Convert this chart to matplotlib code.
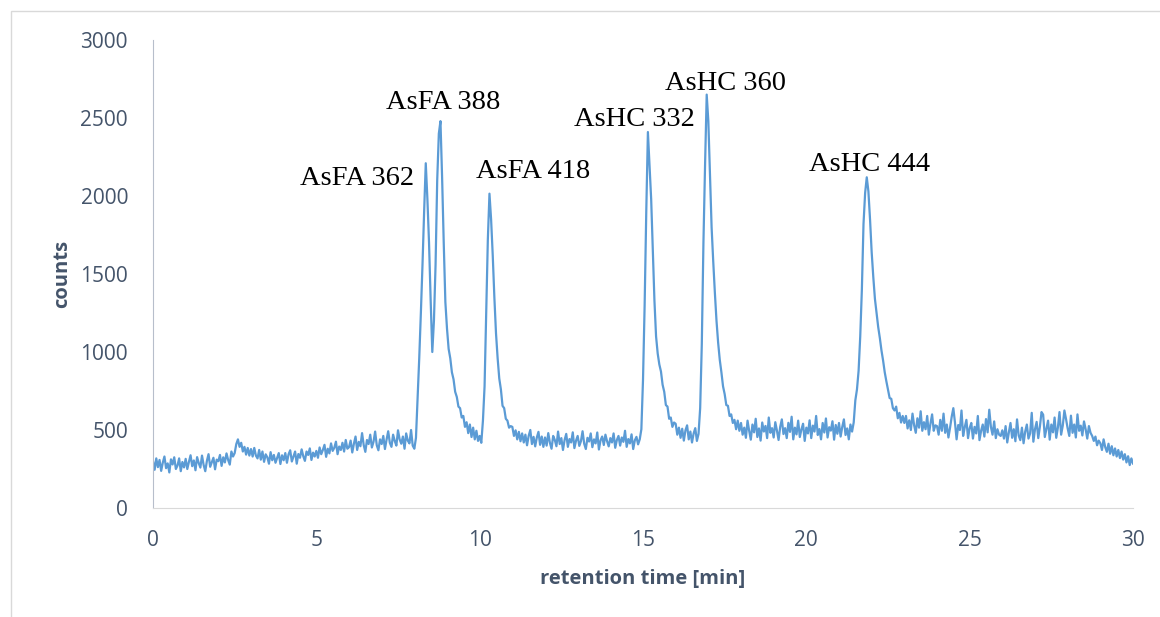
import numpy as np
import matplotlib
matplotlib.use("Agg")
import matplotlib.pyplot as plt
from matplotlib.patches import Rectangle

# sampling of the chromatogram (one reading every 0.05 min, 0 - 30 min)
sample_step = 0.05

# counts, one row per minute
counts_00_08 = [
    300, 245, 318, 262, 308, 238, 291, 330, 255, 286, 228, 312, 279, 325, 250, 272, 318, 236, 295, 260,
    315, 250, 296, 338, 268, 305, 242, 326, 288, 259, 336, 276, 236, 302, 345, 264, 293, 322, 248, 310,
    300, 340, 270, 325, 292, 350, 308, 278, 362, 330, 352, 410, 440, 392, 418, 362, 392, 342, 385, 336,
    378, 330, 385, 336, 318, 372, 310, 362, 296, 344, 325, 284, 358, 306, 340, 290, 322, 352, 282, 338,
    306, 352, 290, 344, 370, 298, 330, 362, 284, 346, 322, 376, 332, 302, 362, 340, 382, 308, 355, 330,
    366, 322, 388, 345, 372, 405, 328, 380, 350, 414, 366, 386, 425, 345, 394, 372, 418, 362, 436, 380,
    390, 432, 356, 412, 458, 372, 424, 396, 480, 404, 360, 436, 410, 470, 388, 424, 490, 402, 370, 440,
    410, 462, 378, 438, 492, 418, 392, 470, 430, 400, 498, 440, 412, 458, 380, 478, 432, 414, 500, 400,
]
counts_08_11 = [
    380, 450, 700, 960, 1250, 1560, 1900, 2210, 1980, 1700, 1330, 1000, 1200, 1560, 2100, 2400, 2480, 2120, 1700, 1320,
    1150, 1020, 960, 870, 825, 745, 712, 650, 640, 580, 590, 520, 550, 480, 535, 455, 515, 440, 495, 430,
    462, 418, 560, 780, 1250, 1720, 2015, 1850, 1620, 1350, 1120, 960, 830, 760, 655, 640, 572, 560, 515, 525,
]
counts_11_15 = [
    520, 462, 498, 440, 488, 428, 478, 420, 470, 402, 462, 500, 410, 456, 395, 452, 488, 405, 458, 392,
    452, 400, 480, 418, 380, 462, 436, 396, 490, 410, 448, 372, 436, 475, 392, 442, 420, 485, 384, 432,
    462, 398, 428, 492, 412, 378, 450, 426, 478, 390, 440, 414, 484, 375, 434, 458, 404, 470, 428, 395,
    448, 420, 478, 386, 436, 462, 400, 452, 424, 495, 392, 442, 414, 472, 378, 434, 456, 408, 440, 505,
]
counts_15_18 = [
    820, 1300, 1900, 2410, 2200, 1980, 1650, 1330, 1100, 990, 920, 875, 790, 745, 660, 650, 572, 580, 520, 548,
    540, 470, 515, 450, 508, 432, 498, 530, 440, 490, 420, 478, 512, 430, 475, 640, 1050, 1700, 2200, 2650,
    2480, 2150, 1800, 1580, 1380, 1200, 1060, 950, 870, 780, 730, 660, 655, 590, 600, 545, 565, 505, 560, 495,
]
counts_18_21 = [
    545, 470, 515, 450, 560, 495, 438, 535, 485, 572, 455, 510, 432, 548, 490, 526, 448, 580, 482, 512,
    452, 550, 496, 436, 520, 568, 474, 512, 448, 546, 488, 585, 440, 515, 472, 560, 455, 504, 540, 430,
    515, 478, 562, 448, 528, 490, 590, 468, 506, 440, 545, 484, 574, 452, 518, 496, 556, 438, 532, 476,
]
counts_21_24 = [
    545, 458, 520, 568, 468, 510, 440, 535, 490, 548, 690, 760, 880, 1100, 1400, 1820, 2020, 2120, 2030, 1850,
    1640, 1480, 1340, 1250, 1160, 1090, 1010, 945, 870, 812, 760, 705, 700, 640, 625, 650, 575, 610, 548, 590,
    545, 590, 510, 562, 500, 605, 530, 482, 575, 515, 620, 495, 550, 505, 590, 470, 540, 600, 495, 530,
]
counts_24_30 = [
    525, 470, 565, 495, 605, 482, 535, 452, 515, 585, 640, 548, 440, 532, 500, 625, 462, 518, 565, 448,
    512, 545, 445, 520, 478, 590, 435, 495, 535, 458, 570, 485, 630, 520, 470, 555, 448, 505, 470, 462,
    498, 445, 525, 420, 485, 545, 450, 505, 428, 568, 465, 435, 515, 415, 490, 535, 445, 478, 610, 425,
    505, 552, 448, 522, 615, 598, 455, 508, 560, 438, 535, 485, 580, 450, 515, 615, 470, 528, 625, 570,
    510, 462, 592, 482, 535, 452, 600, 495, 528, 465, 555, 505, 445, 525, 482, 462, 430, 458, 402, 432,
    415, 372, 440, 390, 360, 412, 348, 396, 338, 382, 330, 372, 320, 362, 310, 345, 292, 332, 275, 318,
    285,
]

# peak annotations: name, label centre (time, counts)
peak_names = ["AsFA 362", "AsFA 388", "AsFA 418", "AsHC 332", "AsHC 360", "AsHC 444"]
label_time = [6.24, 8.88, 11.63, 14.75, 17.54, 21.95]
label_counts = [2115, 2600, 2160, 2490, 2720, 2205]

counts = np.array(counts_00_08 + counts_08_11 + counts_11_15 + counts_15_18
                  + counts_18_21 + counts_21_24 + counts_24_30)
time_min = np.arange(len(counts)) * sample_step

txt_col = "#44546A"

fig = plt.figure(figsize=(11.6, 6.17), dpi=100)
# light frame round the chart area (cut off at right/bottom like the source)
fig.patches.append(Rectangle((10.5 / 1160, -0.05), 1.1, 1 - 11 / 617 + 0.05,
                             transform=fig.transFigure, fill=False,
                             edgecolor="#D9D9D9", linewidth=1))

ax = fig.add_axes([153 / 1160, 109 / 617, 980 / 1160, 468 / 617])
ax.plot(time_min, counts, color="#5B9BD5", linewidth=1.6)

for name, tx, ty in zip(peak_names, label_time, label_counts):
    ax.text(tx, ty, name, ha="center", va="center", fontsize=20.5,
            family="Liberation Serif", color="black")

ax.set_xlim(0, 30)
ax.set_ylim(0, 3000)
ax.set_xticks(np.arange(0, 31, 5))
ax.set_yticks(np.arange(0, 3001, 500))
ax.tick_params(length=0, labelsize=15, labelcolor=txt_col)
ax.tick_params(axis="y", pad=18)
ax.tick_params(axis="x", pad=16)
for lab in ax.get_xticklabels() + ax.get_yticklabels():
    lab.set_family("Open Sans")

for s in ["top", "right"]:
    ax.spines[s].set_visible(False)
ax.spines["left"].set_color("#B7BECB")
ax.spines["bottom"].set_color("#D9D9D9")

ax.set_xlabel("retention time [min]", fontsize=14.5, fontweight="bold",
              color=txt_col, family="Open Sans", labelpad=13)
ax.set_ylabel("counts", fontsize=14.5, fontweight="bold",
              color=txt_col, family="Open Sans", labelpad=6)

fig.savefig("out.png", dpi=100)
